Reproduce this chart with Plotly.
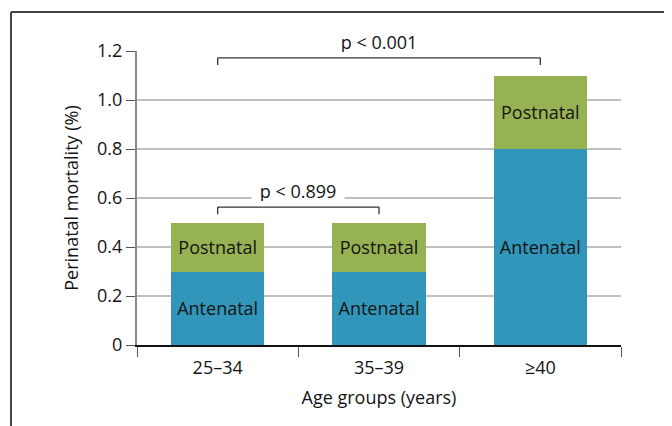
import plotly.graph_objects as go

categories = ["25\u201334", "35\u201339", "\u226540"]
antenatal = [0.3, 0.3, 0.8]
postnatal = [0.2, 0.2, 0.3]
y_tickvals = [0, 0.2, 0.4, 0.6, 0.8, 1.0, 1.2]
y_ticktext = ["0", "0.2", "0.4", "0.6", "0.8", "1.0", "1.2"]
comparisons = [
    {"from": "25\u201334", "to": "\u226540", "label": "p &lt; 0.001", "level": 1.172},
    {"from": "25\u201334", "to": "35\u201339", "label": "p &lt; 0.899", "level": 0.563},
]

FONT = "Open Sans"
FS = 18
TXT = "#141414"

fig = go.Figure()
fig.add_trace(go.Bar(
    x=categories, y=antenatal, name="Antenatal",
    marker=dict(color="#3196b9", line=dict(width=0)),
    text=["Antenatal"] * len(categories), textposition="inside",
    insidetextanchor="middle", textangle=0,
    textfont=dict(family=FONT, size=FS, color=TXT),
    hoverinfo="skip",
))
fig.add_trace(go.Bar(
    x=categories, y=postnatal, name="Postnatal",
    marker=dict(color="#97b253", line=dict(width=0)),
    text=["Postnatal"] * len(categories), textposition="inside",
    insidetextanchor="middle", textangle=0,
    textfont=dict(family=FONT, size=FS, color=TXT),
    hoverinfo="skip",
))

shapes = []
annotations = []
idx = {c: i for i, c in enumerate(categories)}
for cmp in comparisons:
    x0 = idx[cmp["from"]]
    x1 = idx[cmp["to"]]
    lv = cmp["level"]
    drop = 0.029
    line = dict(color="#333333", width=1.3)
    shapes.append(dict(type="line", xref="x", yref="y", x0=x0, x1=x1, y0=lv, y1=lv, line=line))
    shapes.append(dict(type="line", xref="x", yref="y", x0=x0, x1=x0, y0=lv, y1=lv - drop, line=line))
    shapes.append(dict(type="line", xref="x", yref="y", x0=x1, x1=x1, y0=lv, y1=lv - drop, line=line))
    annotations.append(dict(
        x=(x0 + x1) / 2, y=lv, xref="x", yref="y", text=cmp["label"],
        yanchor="middle", yshift=16, width=88, height=20,
        showarrow=False, bgcolor="white", borderpad=2,
        font=dict(family=FONT, size=FS, color=TXT),
    ))

# outer frame (left and top edges)
frame = dict(color="#444444", width=2)
shapes.append(dict(type="line", xref="paper", yref="paper", x0=-0.2603, x1=1.3, y0=1.1327, y1=1.1327, line=frame, layer="above"))
shapes.append(dict(type="line", xref="paper", yref="paper", x0=-0.2603, x1=-0.2603, y0=1.1327, y1=-0.5, line=frame, layer="above"))

fig.update_layout(
    barmode="stack",
    bargap=0.42,
    width=664, height=418,
    margin=dict(l=129, r=51, t=43, b=81, autoexpand=False),
    paper_bgcolor="white", plot_bgcolor="white",
    showlegend=False,
    font=dict(family=FONT, size=FS, color=TXT),
    shapes=shapes,
    annotations=annotations,
    uniformtext=dict(mode=False),
)
fig.update_yaxes(
    range=[0, 1.2], tickvals=y_tickvals, ticktext=y_ticktext,
    showgrid=True, gridcolor="#c0c0c0", gridwidth=1.5,
    showline=True, linecolor="#8a8a8a", linewidth=2,
    ticks="outside", ticklen=9, tickcolor="#555555", tickwidth=1,
    zeroline=False,
    tickfont=dict(family=FONT, size=FS, color=TXT),
    title=dict(text="Perinatal mortality (%)", font=dict(family=FONT, size=FS, color=TXT), standoff=14),
)
fig.update_xaxes(
    type="category",
    showline=True, linecolor="#111111", linewidth=1.5,
    ticks="outside", tickson="boundaries", ticklen=10, tickcolor="#555555", tickwidth=1.3,
    ticklabelstandoff=6,
    showgrid=False,
    tickfont=dict(family=FONT, size=FS, color=TXT),
    title=dict(text="Age groups (years)", font=dict(family=FONT, size=FS, color=TXT), standoff=13),
)

fig.write_html("out.html")
